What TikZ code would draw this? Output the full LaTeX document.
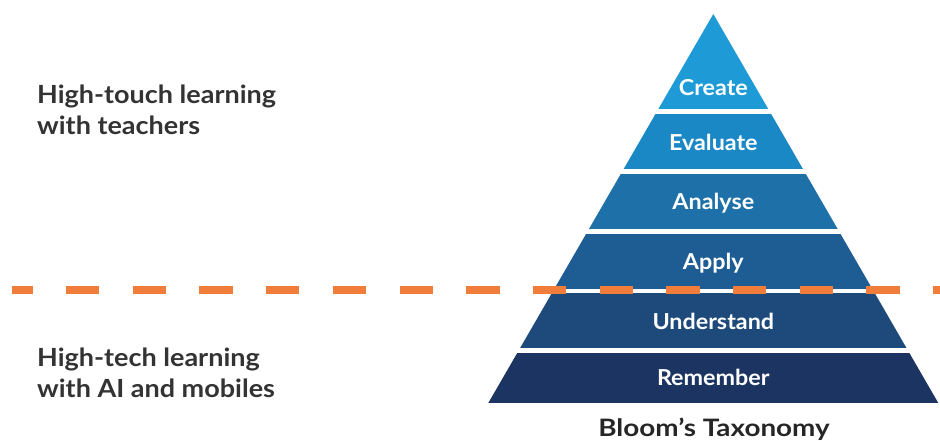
\documentclass[tikz,border=0pt]{standalone}
\usepackage{fontspec}
\setmainfont{Lato}[FakeStretch=1.06]
\newfontfamily\sidefont{Lato}[FakeStretch=1.08]
\newfontfamily\titlefont{Lato}[FakeStretch=1.16]
\begin{document}
\begin{tikzpicture}[x=1pt,y=-1pt,
  tiertext/.style={text=white,font=\fontsize{22}{24}\selectfont\bfseries,anchor=base,inner sep=0pt},
  sidetext/.style={text=textgray,font=\sidefont\fontsize{25}{31}\selectfont\bfseries,anchor=base west,align=left,inner sep=0pt},
  divider/.style={draw=dashorange,line width=8pt,dash pattern=on 33.3pt off 33.4pt,dash phase=12.7pt}]
\definecolor{textgray}{HTML}{333333}
\definecolor{titlegray}{HTML}{262626}
\definecolor{dashorange}{HTML}{F07E3A}
\definecolor{tcreate}{HTML}{1E9BD7}
\definecolor{tevaluate}{HTML}{1B88C6}
\definecolor{tanalyse}{HTML}{1D71A8}
\definecolor{tapply}{HTML}{1E5D93}
\definecolor{tunderstand}{HTML}{1E4A7B}
\definecolor{tremember}{HTML}{1B3461}
\useasboundingbox (0,0) rectangle (940,440);
\fill[white] (0,0) rectangle (940,440);

% pyramid tiers, cut from one triangle
\begin{scope}
  \clip (713.3,14) -- (938.3,403) -- (488.3,403) -- cycle;
  \fill[tcreate]     (480,10)  rectangle (940,109);
  \fill[tevaluate]   (480,114) rectangle (940,169);
  \fill[tanalyse]    (480,174) rectangle (940,229);
  \fill[tapply]      (480,233.5) rectangle (940,288.5);
  \fill[tunderstand] (480,293) rectangle (940,348);
  \fill[tremember]   (480,353) rectangle (940,403);
\end{scope}

\node[tiertext] (create)     at (713.3,95)  {Create};
\node[tiertext] (evaluate)   at (713.3,150) {Evaluate};
\node[tiertext] (analyse)    at (713.3,209) {Analyse};
\node[tiertext] (apply)      at (713.3,269) {Apply};
\node[tiertext] (understand) at (713.3,329) {Understand};
\node[tiertext] (remember)   at (713.3,385) {Remember};

\node[anchor=base,inner sep=0pt,text=titlegray,font=\titlefont\fontsize{24}{26}\selectfont\bfseries]
  (title) at (714,436) {Bloom’s Taxonomy};

% side captions (base anchor sits on the last line)
\node[sidetext] (touch) at (37,134) {High-touch learning\\with teachers};
\node[sidetext] (tech)  at (37,397) {High-tech learning\\with AI and mobiles};

% dividing line between the two halves
\coordinate (dashL) at (12,290);
\coordinate (dashR) at (940,290);
\draw[divider] (dashL) -- (dashR);
\end{tikzpicture}
\end{document}
